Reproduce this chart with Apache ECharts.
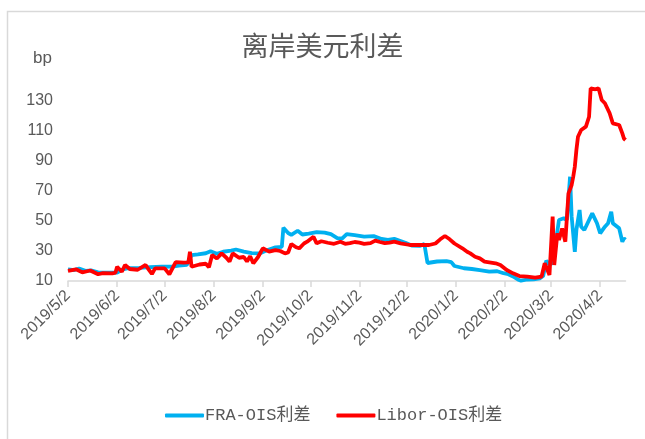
<!DOCTYPE html>
<html>
<head>
<meta charset="utf-8">
<script src="https://cdn.jsdelivr.net/npm/echarts@6/dist/echarts.min.js"></script>
<style>
html,body{margin:0;padding:0;background:#fff;}
#chart{width:645px;height:439px;}
</style>
</head>
<body>
<div id="chart"></div>
<script>
var titleText = '离岸美元利差';
var unitText = 'bp';
var seriesNames = ['FRA-OIS利差', 'Libor-OIS利差'];
var startDate = [2019, 5, 2];
var endDate = [2020, 4, 18];
var yTicks = {min: 10, max: 140, interval: 20};

var fraOis = [
 ['2019/5/2',17.8],['2019/5/6',17.3],['2019/5/9',18.3],['2019/5/13',16.8],['2019/5/17',17.0],
 ['2019/5/21',15.8],['2019/5/27',15.5],['2019/6/2',15.6],['2019/6/5',17.5],['2019/6/9',18.5],
 ['2019/6/16',18.8],['2019/6/23',19.2],['2019/6/30',19.5],['2019/7/7',19.6],['2019/7/11',20.2],
 ['2019/7/16',20.8],['2019/7/19',27.3],['2019/7/23',27.8],['2019/7/28',28.5],['2019/7/31',29.8],
 ['2019/8/4',28.2],['2019/8/8',29.5],['2019/8/13',30.3],['2019/8/16',31.0],['2019/8/21',29.6],
 ['2019/8/26',28.6],['2019/8/31',28.4],['2019/9/5',30.6],['2019/9/10',32.4],['2019/9/14',32.8],
 ['2019/9/15',45.5],['2019/9/18',42.0],['2019/9/20',40.8],['2019/9/24',43.5],['2019/9/27',41.0],
 ['2019/10/1',41.6],['2019/10/6',42.6],['2019/10/11',42.2],['2019/10/15',41.2],['2019/10/19',38.6],
 ['2019/10/22',38.2],['2019/10/25',41.3],['2019/10/30',40.6],['2019/11/5',39.6],['2019/11/11',39.9],
 ['2019/11/16',38.0],['2019/11/20',37.4],['2019/11/24',38.1],['2019/12/1',35.5],['2019/12/5',33.6],
 ['2019/12/10',33.4],['2019/12/13',34.6],['2019/12/15',22.0],['2019/12/21',23.0],['2019/12/27',23.2],
 ['2019/12/30',22.6],['2020/1/1',20.0],['2020/1/7',18.5],['2020/1/12',18.0],['2020/1/17',17.3],
 ['2020/1/23',16.2],['2020/1/28',16.5],['2020/2/1',15.2],['2020/2/4',14.5],['2020/2/7',13.0],
 ['2020/2/10',11.0],['2020/2/12',10.2],['2020/2/16',11.0],['2020/2/20',11.1],['2020/2/24',11.8],
 ['2020/2/26',13.3],['2020/2/28',23.5],['2020/3/1',21.0],['2020/3/3',22.0],['2020/3/5',36.0],
 ['2020/3/7',50.7],['2020/3/10',51.8],['2020/3/12',50.7],['2020/3/14',79.5],['2020/3/15',52.9],
 ['2020/3/17',29.5],['2020/3/18',44.0],['2020/3/20',57.3],['2020/3/21',46.2],['2020/3/23',44.0],
 ['2020/3/28',55.1],['2020/3/31',48.5],['2020/4/2',41.8],['2020/4/5',46.2],['2020/4/7',48.5],
 ['2020/4/9',56.2],['2020/4/10',48.5],['2020/4/14',45.1],['2020/4/16',36.2],['2020/4/17',38.4],
 ['2020/4/18',37.5]
];

var liborOis = [
 ['2019/5/2',16.7],['2019/5/7',17.8],['2019/5/11',15.8],['2019/5/16',17.0],['2019/5/21',14.5],
 ['2019/5/24',15.2],['2019/5/30',15.1],['2019/6/1',15.6],['2019/6/2',19.5],['2019/6/5',16.2],
 ['2019/6/7',20.7],['2019/6/10',18.0],['2019/6/15',17.5],['2019/6/20',20.7],['2019/6/22',17.6],
 ['2019/6/24',14.7],['2019/6/26',18.4],['2019/7/2',18.4],['2019/7/5',14.5],['2019/7/9',22.6],
 ['2019/7/14',22.2],['2019/7/17',22.4],['2019/7/18',29.5],['2019/7/19',19.5],['2019/7/24',21.0],
 ['2019/7/28',21.5],['2019/7/30',19.1],['2019/8/1',27.3],['2019/8/4',25.0],['2019/8/7',28.4],
 ['2019/8/10',25.5],['2019/8/12',23.0],['2019/8/14',28.4],['2019/8/18',25.5],['2019/8/21',26.0],
 ['2019/8/23',23.0],['2019/8/25',26.5],['2019/8/27',21.8],['2019/8/30',26.0],['2019/9/2',31.8],
 ['2019/9/6',29.6],['2019/9/10',30.6],['2019/9/13',30.0],['2019/9/16',28.4],['2019/9/18',29.0],
 ['2019/9/20',34.7],['2019/9/23',32.5],['2019/9/25',31.8],['2019/9/28',35.0],['2019/9/30',36.2],
 ['2019/10/4',39.5],['2019/10/6',35.1],['2019/10/9',36.5],['2019/10/13',35.5],['2019/10/17',34.8],
 ['2019/10/21',36.2],['2019/10/24',34.8],['2019/10/27',35.2],['2019/10/30',36.0],['2019/11/2',35.6],
 ['2019/11/5',34.8],['2019/11/9',35.2],['2019/11/12',36.9],['2019/11/15',36.0],['2019/11/18',35.2],
 ['2019/11/21',35.6],['2019/11/24',36.2],['2019/11/28',35.1],['2019/12/4',34.0],['2019/12/10',34.0],
 ['2019/12/16',34.0],['2019/12/20',35.0],['2019/12/23',37.8],['2019/12/26',40.0],['2019/12/29',37.8],
 ['2020/1/1',35.0],['2020/1/6',31.8],['2020/1/9',29.5],['2020/1/11',28.4],['2020/1/14',26.2],
 ['2020/1/17',25.1],['2020/1/20',22.9],['2020/1/24',22.3],['2020/1/27',21.8],['2020/1/30',20.7],
 ['2020/2/3',17.3],['2020/2/7',15.1],['2020/2/11',13.3],['2020/2/16',12.9],['2020/2/21',12.2],
 ['2020/2/25',12.9],['2020/2/27',21.8],['2020/3/1',14.0],['2020/3/3',52.9],['2020/3/4',20.7],
 ['2020/3/6',41.8],['2020/3/7',37.3],['2020/3/9',45.0],['2020/3/11',36.2],['2020/3/13',68.4],
 ['2020/3/15',74.0],['2020/3/16',79.5],['2020/3/17',86.2],['2020/3/18',97.3],['2020/3/19',106.2],
 ['2020/3/21',110.7],['2020/3/24',112.9],['2020/3/26',119.5],['2020/3/27',138.5],['2020/3/30',137.8],
 ['2020/4/1',138.5],['2020/4/3',130.7],['2020/4/5',128.5],['2020/4/8',121.8],['2020/4/10',115.1],
 ['2020/4/14',114.0],['2020/4/16',108.4],['2020/4/17',105.0],['2020/4/18',104.0]
];

// calendar-day categories
var categories = [];
(function(){
  var d = new Date(startDate[0], startDate[1]-1, startDate[2]);
  var e = new Date(endDate[0], endDate[1]-1, endDate[2]);
  while (d <= e) {
    categories.push(d.getFullYear() + '/' + (d.getMonth()+1) + '/' + d.getDate());
    d.setDate(d.getDate()+1);
  }
})();
function isLabelDay(idx, val){ return String(val).split('/')[2] === '2'; }

var chart = echarts.init(document.getElementById('chart'), null, {renderer:'canvas'});
var gray = '#595959';
chart.setOption({
  animation: false,
  backgroundColor: '#ffffff',
  title: {
    text: titleText, left: 'center', top: 27,
    textStyle: {fontFamily: 'Noto Sans CJK SC', fontWeight: 'normal', fontSize: 27, color: gray}
  },
  graphic: [
    {type:'rect', shape:{x:7.5, y:11.5, width:645, height:440}, style:{fill:'none', stroke:'#d9d9d9', lineWidth:1.5}, silent:true, z:-1},
    {type:'text', left: 33, top: 50, style:{text: unitText, fill: gray, font: '17px "Liberation Sans"'}}
  ],
  legend: {
    data: seriesNames, left: 160, top: 402, itemGap: 26, itemWidth: 39, itemHeight: 4,
    icon: 'roundRect',
    textStyle: {fontFamily: '"Liberation Mono", "Noto Sans CJK SC"', fontSize: 17, color: gray, padding:[0,0,0,-4]}
  },
  grid: {left: 68, right: 19.5, top: 86, bottom: 158, containLabel: false},
  xAxis: {
    type: 'category', data: categories, boundaryGap: false,
    axisLine: {lineStyle: {color: '#d9d9d9', width: 1.5}},
    axisTick: {show: true, interval: isLabelDay, length: 6, lineStyle: {color: '#d9d9d9', width: 1.5}},
    axisLabel: {interval: isLabelDay, rotate: 45, fontSize: 16, color: gray, fontFamily: 'Liberation Sans', margin: 12},
    splitLine: {show: false}
  },
  yAxis: {
    type: 'value', min: yTicks.min, max: yTicks.max, interval: yTicks.interval,
    axisLine: {show: false}, axisTick: {show: false}, splitLine: {show: false},
    axisLabel: {showMaxLabel: false, fontSize: 16, color: gray, fontFamily: 'Liberation Sans', margin: 15}
  },
  series: [
    {name: seriesNames[0], type: 'line', data: fraOis, symbol: 'none',
     lineStyle: {color: '#00B0F0', width: 3.8}, itemStyle: {color: '#00B0F0'}},
    {name: seriesNames[1], type: 'line', data: liborOis, symbol: 'none',
     lineStyle: {color: '#FF0000', width: 3.8}, itemStyle: {color: '#FF0000'}}
  ]
});
</script>
</body>
</html>
